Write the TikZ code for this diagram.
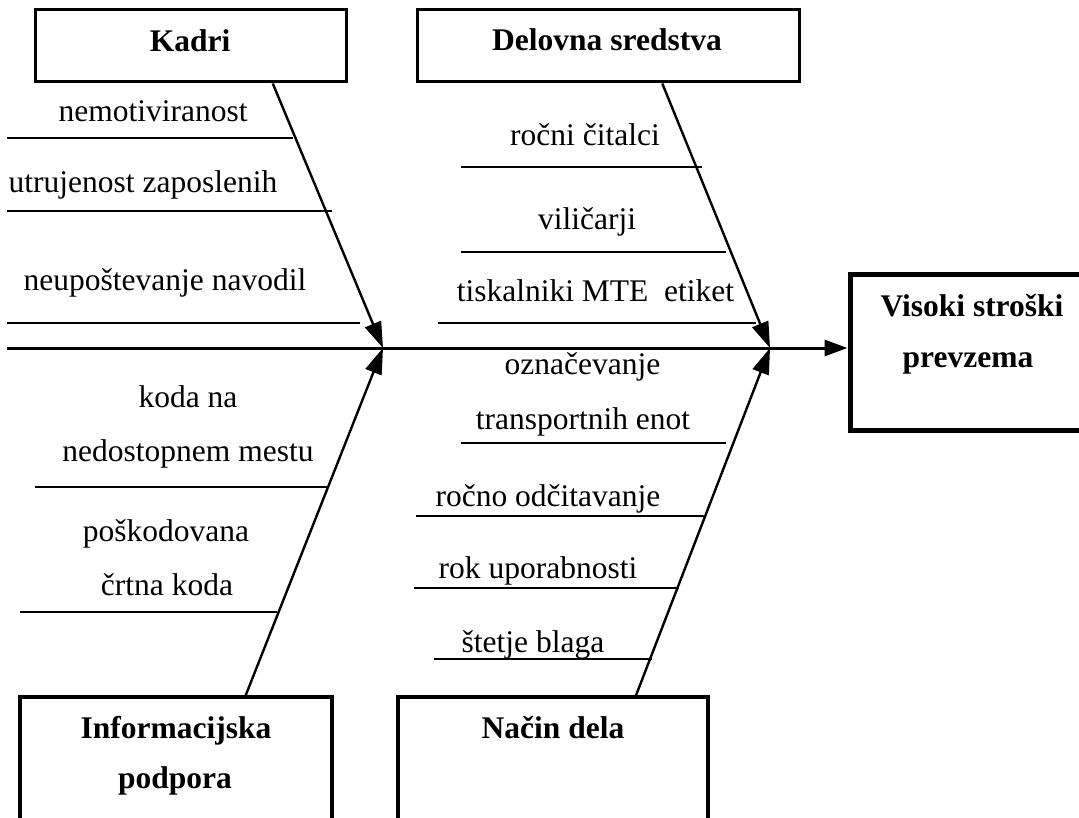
\documentclass[tikz,border=0pt]{standalone}
\usepackage{fontspec}
\setmainfont{Liberation Serif}
\usetikzlibrary{arrows.meta,calc}
\begin{document}
\begin{tikzpicture}[x=1pt,y=-1pt,
  txt/.style={anchor=base, inner sep=0pt, font=\fontsize{31.5}{38}\selectfont},
  hd/.style={anchor=base, inner sep=0pt, font=\fontsize{31.5}{38}\selectfont\bfseries},
  box/.style={draw, line width=3pt, inner sep=0pt},
  rib/.style={line width=1.8pt},
  branch/.style={line width=2.4pt, -{Triangle[length=26pt,width=17pt]}},
  spine/.style={line width=3pt, -{Triangle[length=23pt,width=16pt]}}]
\useasboundingbox (0,0) rectangle (1079,818);

% boxes
\node[box, minimum width=311pt, minimum height=72pt] (kadri) at (190.5,46) {};
\node[box, minimum width=382pt, minimum height=72pt] (delo) at (608,46) {};
\node[box, line width=3.3pt, minimum width=312pt, minimum height=153pt] (info) at (176,773.5) {};
\node[box, line width=3.3pt, minimum width=310pt, minimum height=153pt] (nacin) at (553,773.5) {};
\node[box, line width=5pt, minimum width=250pt, minimum height=155pt] (res) at (975,352.5) {};

% box titles
\node[hd] (hkadri) at (190,52) {Kadri};
\node[hd] (hdelo) at (607,51) {Delovna sredstva};
\node[hd] (hinfo1) at (176,738) {Informacijska};
\node[hd] (hinfo2) at (175,788) {podpora};
\node[hd] (hnacin) at (553,738) {Način dela};
\node[hd] (hres1) at (972,317) {Visoki stroški};
\node[hd] (hres2) at (968,367) {prevzema};

% cause texts
\node[txt] (c1) at (153,122) {nemotiviranost};
\node[txt] (c2) at (143,193) {utrujenost zaposlenih};
\node[txt] (c3) at (165,291) {neupoštevanje navodil};
\node[txt] (c4) at (585,146) {ročni čitalci};
\node[txt] (c5) at (587,230) {viličarji};
\node[txt] (c6) at (595.5,302) {tiskalniki MTE\ \ etiket};
\node[txt] (c7) at (188,407) {koda na};
\node[txt] (c8) at (188,461) {nedostopnem mestu};
\node[txt] (c9) at (166,541) {poškodovana};
\node[txt] (c10) at (167,595) {črtna koda};
\node[txt] (c11) at (582.5,374) {označevanje};
\node[txt] (c12) at (583,429) {transportnih enot};
\node[txt] (c13) at (548,506) {ročno odčitavanje};
\node[txt] (c14) at (538,578) {rok uporabnosti};
\node[txt] (c15) at (533,652) {štetje blaga};

% rib lines
\draw[rib] (7,138) -- (293,138);
\draw[rib] (7,211) -- (332,211);
\draw[rib] (7,323) -- (360,323);
\draw[rib] (461,167) -- (702,167);
\draw[rib] (461,252) -- (726,252);
\draw[rib] (438,323) -- (756,323);
\draw[rib] (35,487) -- (327,487);
\draw[rib] (20,612) -- (277,612);
\draw[rib] (461,443) -- (726,443);
\draw[rib] (416,516) -- (705,516);
\draw[rib] (414,588) -- (679,588);
\draw[rib] (434,659) -- (652,659);

% junctions and spine
\coordinate (j1) at (383,348);
\coordinate (j2) at (770,348);
\coordinate (s0) at (7,348);
\draw[spine] (s0) -- (s0 -| res.west);

% branches
\draw[branch] ($(kadri.south west)!0.762!(kadri.south east)$) -- (j1);
\draw[branch] ($(delo.south west)!0.641!(delo.south east)$) -- (j2);
\draw[branch] ($(info.north west)!0.721!(info.north east)$) -- (j1);
\draw[branch] ($(nacin.north west)!0.765!(nacin.north east)$) -- (j2);
\end{tikzpicture}
\end{document}
